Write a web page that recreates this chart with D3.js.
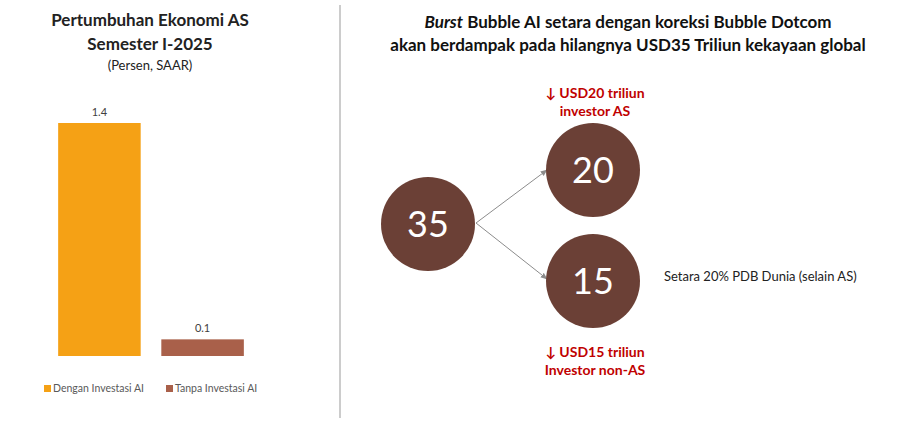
<!DOCTYPE html>
<html><head><meta charset="utf-8">
<script src="https://cdn.jsdelivr.net/npm/d3@7"></script>
<style>body{margin:0;background:#fff}svg{font-family:Lato,"Open Sans",sans-serif}</style>
</head><body><svg id="c" width="899" height="423"></svg>
<script>
const categories = ["Dengan Investasi AI", "Tanpa Investasi AI"];
const values = [1.4, 0.1];
const barColors = ["#f5a115", "#a9604a"];
const bubbleLabels = ["35", "20", "15"];
const bubbleValues = [35, 20, 15];

const svg = d3.select("#c");
// Left title
const lt = svg.append("g").attr("text-anchor","middle").attr("fill","#222");
lt.append("text").attr("x",150).attr("y",26).attr("font-size",17).attr("font-weight","bold").text("Pertumbuhan Ekonomi AS");
lt.append("text").attr("x",150).attr("y",50).attr("font-size",17).attr("font-weight","bold").text("Semester I-2025");
lt.append("text").attr("x",150).attr("y",70).attr("font-size",13).text("(Persen, SAAR)");

const x = d3.scaleBand().domain(categories).range([53,249]).paddingInner(0.2).paddingOuter(0.05);
const y = d3.scaleLinear().domain([0,1.4]).range([356,123]);
svg.selectAll("rect.bar").data(values).join("rect").attr("class","bar")
  .attr("x",(d,i)=>x(categories[i])).attr("width",x.bandwidth())
  .attr("y",d=>y(d)).attr("height",d=>y(0)-y(d)).attr("fill",(d,i)=>barColors[i]);
svg.selectAll("text.val").data(values).join("text").attr("class","val")
  .attr("x",(d,i)=>x(categories[i])+x.bandwidth()/2).attr("y",d=>y(d)-7)
  .attr("text-anchor","middle").attr("font-size",11).attr("fill","#404040").text(d=>d.toFixed(1));
// legend
const lgX = [44,166];
categories.forEach((c,i)=>{
  svg.append("rect").attr("x",lgX[i]).attr("y",385).attr("width",7).attr("height",7).attr("fill",barColors[i]);
  svg.append("text").attr("x",lgX[i]+9).attr("y",392).attr("font-size",10.5).attr("fill","#595959").text(c);
});
// divider
svg.append("line").attr("x1",340).attr("x2",340).attr("y1",5).attr("y2",418).attr("stroke","#999").attr("stroke-width",1);

// Right title
const rt = svg.append("g").attr("text-anchor","middle").attr("fill","#111").attr("font-size",17).attr("font-weight","bold");
const t1 = rt.append("text").attr("x",628).attr("y",28);
t1.append("tspan").attr("font-style","italic").text("Burst");
t1.append("tspan").text(" Bubble AI setara dengan koreksi Bubble Dotcom");
rt.append("text").attr("x",628).attr("y",51).text("akan berdampak pada hilangnya USD35 Triliun kekayaan global");

// bubbles
const pos = [[428,224],[593,170],[593,281]];
const r = d3.scaleSqrt().domain([0,35]).range([0,47]);
const defs = svg.append("defs");
defs.append("marker").attr("id","ah").attr("viewBox","0 0 10 10").attr("refX",9).attr("refY",5)
  .attr("markerWidth",7).attr("markerHeight",7).attr("orient","auto")
  .append("path").attr("d","M0,1 L10,5 L0,9 z").attr("fill","#8c8c8c");
[1,2].forEach(i=>{
  svg.append("line").attr("x1",476).attr("y1",223).attr("x2",pos[i][0]-46).attr("y2",pos[i][1]+(i==1?0:-2))
    .attr("stroke","#8c8c8c").attr("stroke-width",1).attr("marker-end","url(#ah)");
});
svg.selectAll("circle.b").data(bubbleValues).join("circle").attr("class","b")
  .attr("cx",(d,i)=>pos[i][0]).attr("cy",(d,i)=>pos[i][1]).attr("r",47).attr("fill","#6b4036");
svg.selectAll("text.bl").data(bubbleLabels).join("text").attr("class","bl")
  .attr("x",(d,i)=>pos[i][0]).attr("y",(d,i)=>pos[i][1]+13).attr("text-anchor","middle")
  .attr("font-size",36).attr("fill","#fff").text(d=>d);

const red = svg.append("g").attr("text-anchor","middle").attr("fill","#c00000").attr("font-size",14).attr("font-weight","bold");
red.append("text").attr("x",595).attr("y",98).text("↓ USD20 triliun");
red.append("text").attr("x",595).attr("y",116).text("investor AS");
red.append("text").attr("x",595).attr("y",357).text("↓ USD15 triliun");
red.append("text").attr("x",595).attr("y",375).text("Investor non-AS");
svg.append("text").attr("x",664).attr("y",281).attr("font-size",13).attr("fill","#222").text("Setara 20% PDB Dunia (selain AS)");
</script></body></html>
